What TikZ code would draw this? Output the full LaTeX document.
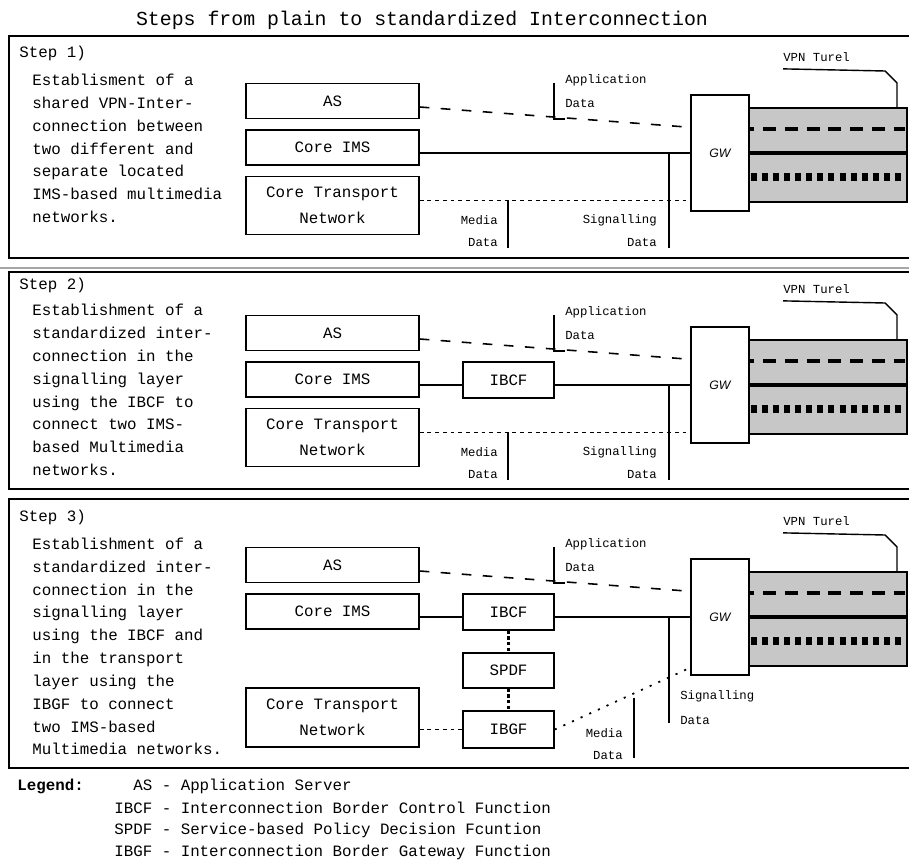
\documentclass[tikz,border=0pt]{standalone}
\usepackage{fontspec}
\setmainfont{Liberation Mono}
\newfontfamily\gwfont{Liberation Sans}
\usetikzlibrary{calc}

\begin{document}
\begin{tikzpicture}[x=0.02cm,y=-0.02cm,
    box/.style={draw,line width=0.8pt,minimum width=3.46cm,minimum height=0.7cm,
      inner sep=0pt,align=center,font=\fontsize{9}{15}\selectfont},
    fbox/.style={box,minimum width=1.82cm,minimum height=0.72cm},
    gwbox/.style={draw,line width=0.8pt,minimum width=1.16cm,minimum height=2.32cm,
      inner sep=0pt,font=\gwfont\itshape\fontsize{7}{8}\selectfont},
    desc/.style={anchor=west,align=left,inner sep=0pt,font=\fontsize{9}{13}\selectfont},
    lbl/.style={inner sep=0pt,font=\fontsize{7}{8}\selectfont},
    panel/.style={line width=1.1pt},
    ptr/.style={line width=0.8pt},
    sig/.style={line width=0.85pt},
    appline/.style={line width=0.9pt,dash pattern=on 5.5pt off 6.5pt},
    mediadots/.style={line width=0.9pt,dash pattern=on 2.2pt off 2.2pt},
    ctrl/.style={line width=1.2pt,dash pattern=on 2pt off 1.2pt},
    diagdots/.style={line width=1pt,dash pattern=on 1.2pt off 4.2pt}]

  \useasboundingbox (0,0) rectangle (909,868);

  \node[font=\fontsize{11.3}{13}\selectfont,inner sep=0pt] (title) at (422,20)
    {Steps from plain to standardized Interconnection};

  % the three frames
  \draw[panel] (912,36) -| (9,258) -- (912,258);
  \draw[black!35,line width=0.6pt] (0,268) -- (909,268);
  \draw[panel] (912,272) -| (9,489) -- (912,489);
  \draw[panel] (912,499) -| (9,768) -- (912,768);

  % parts that every step has
  \foreach \i/\dy in {1/0,2/232,3/464}{
    \begin{scope}[shift={(0,\dy)}]
      \node[desc] (step\i) at (19,53) {Step \i)};
      \node[box] (AS\i) at (332.5,101) {AS};
      \node[box] (IMS\i) at (332.5,147.5) {Core IMS};
      \node[gwbox] (GW\i) at (720,153) {GW};
      % VPN tunnel
      \fill[black!22] (749,108) rectangle (907,202);
      \draw[line width=0.8pt] (749,108) rectangle (907,202);
      \draw[line width=2.3pt] (749,153) -- (907,153);
      \draw[line width=2.3pt,dash pattern=on 7.4pt off 5pt,dash phase=5pt] (750,129) -- (905,129);
      \draw[line width=4.5pt,dash pattern=on 3.4pt off 2.9pt] (751,177) -- (905,177);
      \node[lbl,anchor=west] (vpn\i) at (783,57) {VPN Turel};
      \draw[ptr] (vpn\i.south west) ++(0,7) -- (885,71) -- (897,83) -- (897,108);
      % application data
      \node[lbl,anchor=west] (app\i) at (565,80) {Application};
      \node[lbl,anchor=west] (appd\i) at (565,103) {Data};
      \draw[ptr] (554,83) -- (554,119) -- (565,119);
      \draw[appline] ([yshift=-0.12cm]AS\i.east) -- ([yshift=-0.66cm]GW\i.north west);
    \end{scope}
  }

  % steps 1 and 2: media and signalling
  \foreach \i/\dy in {1/0,2/232}{
    \begin{scope}[shift={(0,\dy)}]
      \node[box,minimum height=1.15cm] (CTN\i) at (332.5,205.5) {Core Transport\\Network};
      \coordinate (med\i) at ([yshift=0.22cm]GW\i.south west);
      \draw[mediadots] (CTN\i.east |- med\i) -- (med\i);
      \coordinate (medtop\i) at (508,200);
      \coordinate (medend\i) at (508,248);
      \draw[ptr] (medtop\i) -- (medend\i);
      \node[lbl,anchor=east] (medl\i) at (498,220) {Media};
      \node[lbl,anchor=east] (medd\i) at (498,242) {Data};
      \coordinate (sigtop\i) at (669,153);
      \coordinate (sigend\i) at (669,248);
      \draw[ptr] (sigtop\i) -- (sigend\i);
      \node[lbl,anchor=east] (sigl\i) at (657,220) {Signalling};
      \node[lbl,anchor=east] (sigd\i) at (657,242) {Data};
    \end{scope}
  }

  % step 1
  \node[desc] (txt1) at (32,148.5) {Establisment of a\\shared VPN-Inter-\\connection between\\two different and\\separate located\\IMS-based multimedia\\networks.};
  \draw[sig] (IMS1.east |- GW1.west) -- (GW1.west);

  % step 2
  \node[desc] (txt2) at (32,390) {Establishment of a\\standardized inter-\\connection in the\\signalling layer\\using the IBCF to\\connect two IMS-\\based Multimedia\\networks.};
  \node[fbox] (IBCF2) at (508.5,380) {IBCF};
  \draw[sig] (IMS2.east |- GW2.west) -- (IBCF2.west |- GW2.west);
  \draw[sig] (IBCF2.east |- GW2.west) -- (GW2.west);

  % step 3
  \node[desc] (txt3) at (32,646.5) {Establishment of a\\standardized inter-\\connection in the\\signalling layer\\using the IBCF and\\in the transport\\layer using the\\IBGF to connect\\two IMS-based\\Multimedia networks.};
  \node[box,minimum height=1.18cm] (CTN3) at (332.5,717.5) {Core Transport\\Network};
  \node[fbox] (IBCF3) at (508.5,612) {IBCF};
  \node[fbox,minimum height=0.7cm] (SPDF3) at (508.5,670.5) {SPDF};
  \node[fbox,minimum height=0.74cm] (IBGF3) at (508.5,729.5) {IBGF};
  \draw[sig] (IMS3.east |- GW3.west) -- (IBCF3.west |- GW3.west);
  \draw[sig] (IBCF3.east |- GW3.west) -- (GW3.west);
  \draw[ctrl] (IBCF3) -- (SPDF3);
  \draw[ctrl] (SPDF3) -- (IBGF3);
  \draw[mediadots] (CTN3.east |- IBGF3.west) -- (IBGF3.west);
  \draw[diagdots] (IBGF3.east) -- ([yshift=0.16cm]GW3.south west);
  \coordinate (medtop3) at (634,698);
  \coordinate (medend3) at (634,758);
  \draw[ptr] (medtop3) -- (medend3);
  \node[lbl,anchor=east] (medl3) at (623,733) {Media};
  \node[lbl,anchor=east] (medd3) at (623,755) {Data};
  \coordinate (sigtop3) at (669,618);
  \coordinate (sigend3) at (669,723);
  \draw[ptr] (sigtop3) -- (sigend3);
  \node[lbl,anchor=west] (sigl3) at (680,696) {Signalling};
  \node[lbl,anchor=west] (sigd3) at (680,720) {Data};

  % legend
  \node[anchor=west,inner sep=0pt,font=\bfseries\fontsize{9}{11}\selectfont] (legend) at (17,786) {Legend:};
  \foreach \txt [count=\k] in {\phantom{IB}AS - Application Server,
      IBCF - Interconnection Border Control Function,
      SPDF - Service-based Policy Decision Fcuntion,
      IBGF - Interconnection Border Gateway Function}
    \node[anchor=west,inner sep=0pt,font=\fontsize{9}{11}\selectfont] (leg\k) at (114,764+22*\k) {\txt};
\end{tikzpicture}
\end{document}
